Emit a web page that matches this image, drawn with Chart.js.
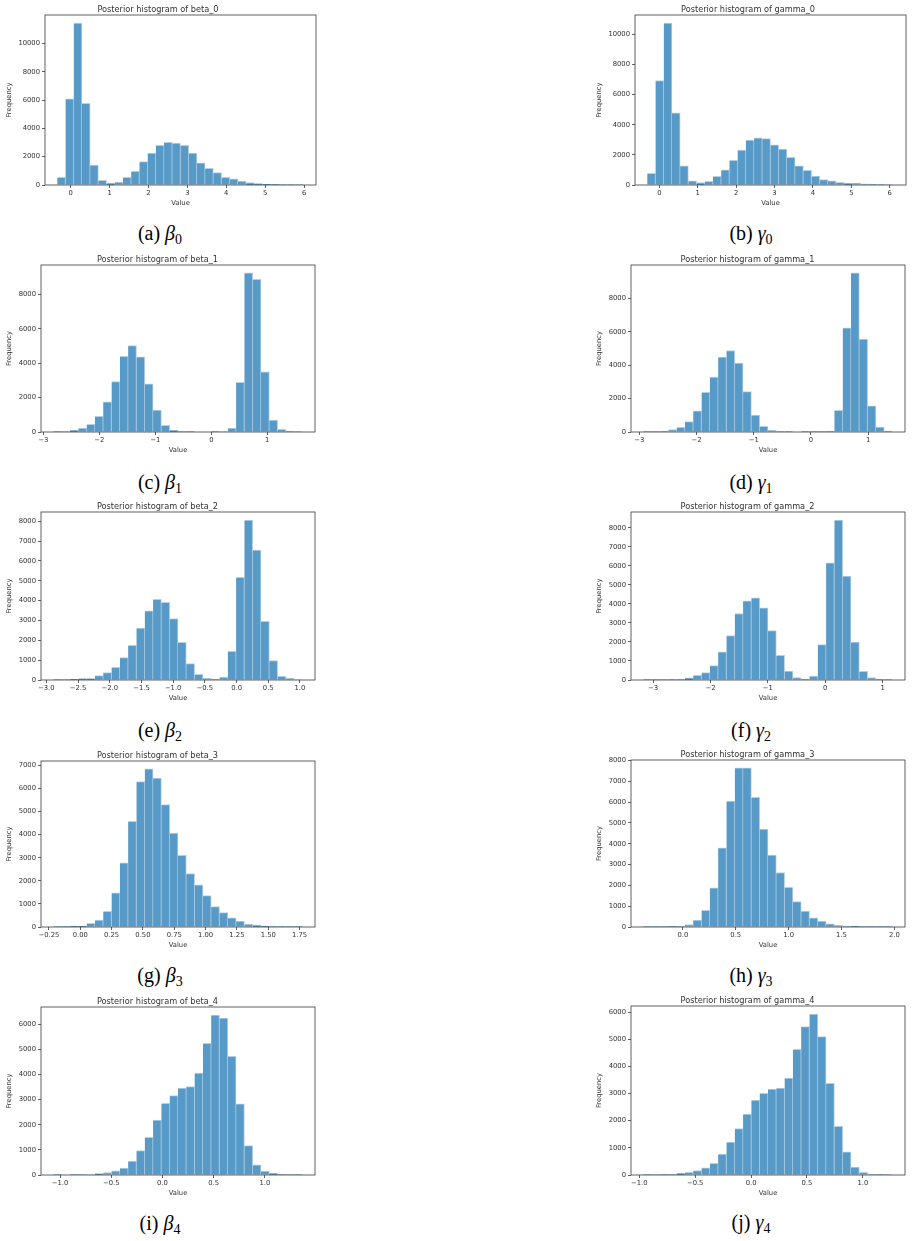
<!DOCTYPE html>
<html><head><meta charset="utf-8">
<script src="https://cdn.jsdelivr.net/npm/chart.js@4.4.0/dist/chart.umd.min.js"></script>
<style>
html,body{margin:0;padding:0;background:#fff;}
body{width:913px;height:1241px;position:relative;overflow:hidden;}
.panel{position:absolute;}
.panel canvas{display:block;}
.cap{position:absolute;transform:translate(-50%,-50%);font-family:"Liberation Serif","DejaVu Serif",serif;font-size:20px;white-space:nowrap;color:#000;line-height:1;}
.cap i{font-style:italic;}
.cap sub{font-size:14px;vertical-align:-4px;line-height:0;}
</style></head><body>
<script>
// ---------------- data ----------------
const TITLES = ['Posterior histogram of beta_0','Posterior histogram of gamma_0',
  'Posterior histogram of beta_1','Posterior histogram of gamma_1',
  'Posterior histogram of beta_2','Posterior histogram of gamma_2',
  'Posterior histogram of beta_3','Posterior histogram of gamma_3',
  'Posterior histogram of beta_4','Posterior histogram of gamma_4'];
const CAP_LETTERS = ['a','b','c','d','e','f','g','h','i','j'];
const CAP_SYMBOLS = ['β','γ','β','γ','β','γ','β','γ','β','γ'];
const CAP_SUBS = ['0','0','1','1','2','2','3','3','4','4'];

// data range [min, max] of each histogram (30 equal bins)
const B0_RANGE = [-0.343, 5.99];
const G0_RANGE = [-0.313, 6.103];
const B1_RANGE = [-2.82, 1.63];
const G1_RANGE = [-2.927, 1.427];
const B2_RANGE = [-2.888, 1.041];
const G2_RANGE = [-3.168, 1.174];
const B3_RANGE = [-0.214, 1.774];
const G3_RANGE = [-0.373, 1.983];
const B4_RANGE = [-1.064, 1.368];
const G4_RANGE = [-0.963, 1.266];

// bin counts
const B0_COUNTS = [550,6100,11450,5780,1400,330,120,210,545,970,1660,2250,2800,3010,2960,2800,2250,1560,1180,880,545,430,285,165,95,70,40,25,15,10];
const G0_COUNTS = [780,6940,10750,4800,1270,270,155,245,580,1000,1630,2320,2990,3125,3080,2660,2390,1830,1270,980,600,360,270,180,130,120,70,60,40,25];
const B1_COUNTS = [3,10,100,235,450,910,1750,2930,4400,5030,4370,2800,1280,390,100,20,5,0,0,5,30,230,2890,9260,8890,3500,700,155,60,10];
const G1_COUNTS = [5,40,60,140,280,620,1260,2380,3280,4480,4880,4120,2420,1020,340,100,15,3,0,2,5,20,50,1300,6240,9520,5560,1560,300,60];
const B2_COUNTS = [5,30,35,70,75,220,370,640,1130,1750,2610,3480,4060,3910,3100,1900,825,290,85,45,150,1450,5170,8060,6550,2950,975,185,80,20];
const G2_COUNTS = [3,5,30,40,45,120,250,390,760,1480,2340,3500,4170,4320,3800,2600,1300,475,125,40,210,1860,6170,8420,5470,1990,460,125,45,15];
const B3_COUNTS = [2,40,45,45,160,300,680,1480,2780,4580,6300,6850,6450,5300,4070,3100,2320,1830,1360,880,620,400,260,130,90,45,40,35,3,2];
const G3_COUNTS = [2,3,5,30,50,120,330,800,1880,3800,6050,7640,7640,6230,4700,3460,2620,1900,1220,760,440,290,150,80,45,35,10,5,2,2];
const B4_COUNTS = [1,0,2,5,15,60,100,170,280,550,970,1500,2190,2850,3160,3460,3520,4060,5240,6370,6250,4720,2830,1170,400,160,70,30,5,2];
const G4_COUNTS = [2,5,20,25,70,100,160,260,430,770,1210,1710,2240,2760,3010,3170,3200,3570,4630,5470,5930,5100,3380,1790,850,290,100,25,20,5];

// tick labels
const B0_XTICKS = [0,1,2,3,4,5,6];
const G0_XTICKS = [0,1,2,3,4,5,6];
const B1_XTICKS = [-3,-2,-1,0,1];
const G1_XTICKS = [-3,-2,-1,0,1];
const B2_XTICKS = [-3,-2.5,-2,-1.5,-1,-0.5,0,0.5,1];
const G2_XTICKS = [-3,-2,-1,0,1];
const B3_XTICKS = [-0.25,0,0.25,0.5,0.75,1,1.25,1.5,1.75];
const G3_XTICKS = [0,0.5,1,1.5,2];
const B4_XTICKS = [-1,-0.5,0,0.5,1];
const G4_XTICKS = [-1,-0.5,0,0.5,1];
const XTICK_DECIMALS = [0,0,0,0,1,0,2,1,1,1];

const B0_YTICKS = [0,2000,4000,6000,8000,10000];
const G0_YTICKS = [0,2000,4000,6000,8000,10000];
const B1_YTICKS = [0,2000,4000,6000,8000];
const G1_YTICKS = [0,2000,4000,6000,8000];
const B2_YTICKS = [0,1000,2000,3000,4000,5000,6000,7000,8000];
const G2_YTICKS = [0,1000,2000,3000,4000,5000,6000,7000,8000];
const B3_YTICKS = [0,1000,2000,3000,4000,5000,6000,7000];
const G3_YTICKS = [0,1000,2000,3000,4000,5000,6000,7000,8000];
const B4_YTICKS = [0,1000,2000,3000,4000,5000,6000];
const G4_YTICKS = [0,1000,2000,3000,4000,5000,6000];

const RANGES = [B0_RANGE,G0_RANGE,B1_RANGE,G1_RANGE,B2_RANGE,G2_RANGE,B3_RANGE,G3_RANGE,B4_RANGE,G4_RANGE];
const COUNTS = [B0_COUNTS,G0_COUNTS,B1_COUNTS,G1_COUNTS,B2_COUNTS,G2_COUNTS,B3_COUNTS,G3_COUNTS,B4_COUNTS,G4_COUNTS];
const XTICKS = [B0_XTICKS,G0_XTICKS,B1_XTICKS,G1_XTICKS,B2_XTICKS,G2_XTICKS,B3_XTICKS,G3_XTICKS,B4_XTICKS,G4_XTICKS];
const YTICKS = [B0_YTICKS,G0_YTICKS,B1_YTICKS,G1_YTICKS,B2_YTICKS,G2_YTICKS,B3_YTICKS,G3_YTICKS,B4_YTICKS,G4_YTICKS];

// ---------------- layout (plot area boxes, page px) ----------------
const LAYOUT = [
  {col:0,   l:45,  t:15,   r:316, b:185},
  {col:590, l:635, t:15,   r:906, b:185},
  {col:0,   l:41,  t:265,  r:315, b:432},
  {col:590, l:631, t:265,  r:905, b:432},
  {col:0,   l:41,  t:512,  r:315, b:680},
  {col:590, l:631, t:512,  r:905, b:680},
  {col:0,   l:41,  t:761,  r:315, b:927},
  {col:590, l:631, t:760,  r:905, b:927},
  {col:0,   l:41,  t:1007, r:315, b:1175},
  {col:590, l:631, t:1006, r:905, b:1175}
];
const CAP_POS = [[160,233],[751,233],[160,482],[751,482],[160,730],[751,730],[160,975],[751,975],[160,1223],[751,1222]];

const FONT = '"DejaVu Sans","Noto Sans",sans-serif';
const TXT = '#333';
const TITLE_H = 12, XAXIS_H = 22, PAD_R = 7;

const frame = {
  id:'frame',
  afterDraw(chart){
    const {ctx, chartArea:a} = chart;
    ctx.save(); ctx.strokeStyle = '#3a3a3a'; ctx.lineWidth = 0.8;
    ctx.strokeRect(a.left, a.top, a.right - a.left, a.bottom - a.top);
    ctx.restore();
  }
};

function fmt(v, dec){
  const s = Math.abs(v).toFixed(dec);
  return (v < -1e-9 ? '\u2212' : '') + s;
}

for (let p = 0; p < 10; p++) {
  const L = LAYOUT[p];
  const [lo, hi] = RANGES[p];
  const w = (hi - lo) / COUNTS[p].length;
  const span = hi - lo;
  const data = COUNTS[p].map((c, i) => ({x: lo + (i + 0.5) * w, y: c}));
  const ymax = 1.05 * Math.max(...COUNTS[p]);

  const div = document.createElement('div');
  div.className = 'panel';
  const top = L.t - TITLE_H;
  const width = L.r - L.col + PAD_R;
  const height = L.b - top + XAXIS_H;
  div.style.left = L.col + 'px';
  div.style.top = top + 'px';
  const cv = document.createElement('canvas');
  cv.width = width; cv.height = height;
  cv.style.width = width + 'px'; cv.style.height = height + 'px';
  div.appendChild(cv);
  document.body.appendChild(div);

  const yW = L.l - L.col;
  const dec = XTICK_DECIMALS[p];
  const xt = XTICKS[p], yt = YTICKS[p];

  new Chart(cv.getContext('2d'), {
    type: 'bar',
    data: { datasets: [{
      data,
      backgroundColor: '#5799c7',
      borderColor: '#b3d0e6',
      borderWidth: {top: 1, right: 1, left: 0, bottom: 0},
      borderSkipped: false,
      barPercentage: 1,
      categoryPercentage: 1
    }]},
    options: {
      responsive: false,
      animation: false,
      devicePixelRatio: 1,
      layout: { padding: {top: 0, left: 0, right: PAD_R, bottom: 0} },
      plugins: {
        legend: {display: false},
        tooltip: {enabled: false},
        title: {display: true, text: TITLES[p], color: TXT,
          font: {size: 8.2, family: FONT, weight: 'normal', lineHeight: 1.2},
          padding: {top: 2.16, bottom: 0}}
      },
      scales: {
        x: {
          type: 'linear', min: lo - 0.05 * span, max: hi + 0.05 * span, offset: false,
          grid: {display: true, drawOnChartArea: false, drawTicks: true, tickLength: 3, color: '#3a3a3a', offset: false, lineWidth: 0.8},
          border: {display: false},
          ticks: {font: {size: 6.8, family: FONT}, color: TXT, padding: 1, maxRotation: 0, autoSkip: false,
            callback: v => fmt(v, dec)},
          afterBuildTicks: s => { s.ticks = xt.map(v => ({value: v})); },
          afterFit: s => { s.height = XAXIS_H; },
          title: {display: true, text: 'Value', color: TXT, font: {size: 6.8, family: FONT, lineHeight: 1.2}, padding: {top: 0, bottom: 0}}
        },
        y: {
          type: 'linear', min: 0, max: ymax,
          grid: {display: true, drawOnChartArea: false, drawTicks: true, tickLength: 3, color: '#3a3a3a', lineWidth: 0.8},
          border: {display: false},
          ticks: {font: {size: 6.8, family: FONT}, color: TXT, padding: 2, callback: v => String(v)},
          afterBuildTicks: s => { s.ticks = yt.map(v => ({value: v})); },
          afterFit: s => { s.width = yW; },
          title: {display: true, text: 'Frequency', color: TXT, font: {size: 6.8, family: FONT, lineHeight: 1.2}, padding: {top: 4.8, bottom: 0}}
        }
      }
    },
    plugins: [frame]
  });

  const cap = document.createElement('div');
  cap.className = 'cap';
  cap.style.left = CAP_POS[p][0] + 'px';
  cap.style.top = CAP_POS[p][1] + 'px';
  cap.innerHTML = '(' + CAP_LETTERS[p] + ')&nbsp;<i>' + CAP_SYMBOLS[p] + '</i><sub>' + CAP_SUBS[p] + '</sub>';
  document.body.appendChild(cap);
}
</script>
</body></html>
